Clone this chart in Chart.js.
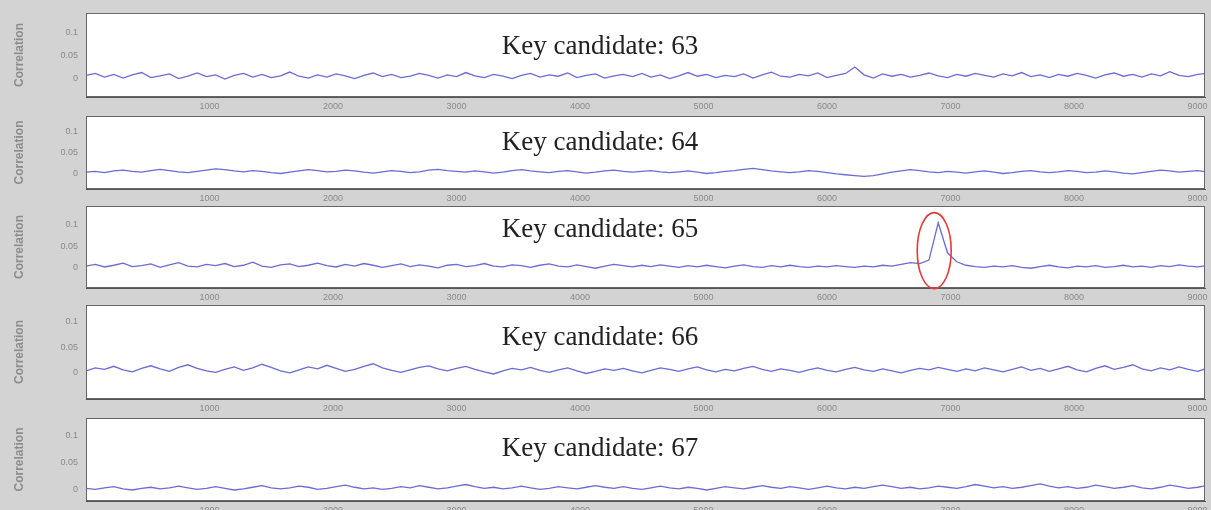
<!DOCTYPE html>
<html>
<head>
<meta charset="utf-8">
<script src="https://cdn.jsdelivr.net/npm/chart.js@4"></script>
<style>
  html, body { margin: 0; padding: 0; }
  body { width: 1211px; height: 510px; background: #d3d3d3; position: relative; overflow: hidden; }
  .panel { position: absolute; left: 0; line-height: 0; }
  canvas { display: block; }
</style>
</head>
<body>
<div id="wrap"></div>
<script>
// Key candidates shown, one per panel
var candidates = [63, 64, 65, 66, 67];

// x sample step and tick values
var sampleStep = 75;
var xTicks = [1000, 2000, 3000, 4000, 5000, 6000, 7000, 8000, 9000];
var yTicks = [0, 0.05, 0.1];

// correlation traces
var trace63 = [
  0.008, 0.012, 0.004, 0.010, 0.002, 0.009, 0.014, 0.003, 0.007, 0.011,
  0.001, 0.006, 0.013, 0.005, 0.009, 0.000, 0.008, 0.012, 0.004, 0.010,
  0.003, 0.007, 0.015, 0.006, 0.002, 0.009, 0.004, 0.011, 0.007, 0.001,
  0.008, 0.013, 0.005, 0.010, 0.003, 0.006, 0.012, 0.008, 0.002, 0.009,
  0.005, 0.014, 0.007, 0.003, 0.010, 0.006, 0.001, 0.008, 0.012, 0.004,
  0.009, 0.006, 0.013, 0.003, 0.008, 0.011, 0.002, 0.007, 0.010, 0.005,
  0.012, 0.004, 0.009, 0.001, 0.007, 0.014, 0.006, 0.010, 0.003, 0.008,
  0.005, 0.011, 0.002, 0.009, 0.015, 0.006, 0.004, 0.010, 0.007, 0.013,
  0.003, 0.008, 0.012, 0.026, 0.009, 0.002, 0.011, 0.006, 0.010, 0.004,
  0.008, 0.013, 0.007, 0.003, 0.010, 0.006, 0.012, 0.008, 0.004, 0.011,
  0.007, 0.014, 0.005, 0.009, 0.003, 0.010, 0.006, 0.012, 0.008, 0.002,
  0.009, 0.013, 0.006, 0.010, 0.004, 0.011, 0.007, 0.016, 0.008, 0.005,
  0.010, 0.012
];
var trace64 = [
  0.002, 0.004, 0.001, 0.005, 0.007, 0.004, 0.002, 0.006, 0.009, 0.006,
  0.003, 0.001, 0.004, 0.007, 0.010, 0.008, 0.005, 0.003, 0.006, 0.004,
  0.001, -0.001, 0.002, 0.005, 0.008, 0.006, 0.003, 0.004, 0.007, 0.005,
  0.002, 0.000, 0.003, 0.006, 0.004, 0.001, 0.003, 0.007, 0.009, 0.006,
  0.004, 0.002, 0.005, 0.003, 0.000, 0.002, 0.006, 0.008, 0.005, 0.003,
  0.001, 0.004, 0.006, 0.003, 0.000, 0.002, 0.005, 0.007, 0.004, 0.002,
  0.004, 0.006, 0.003, 0.001, 0.003, 0.005, 0.002, -0.001, 0.001, 0.004,
  0.006, 0.009, 0.011, 0.008, 0.005, 0.003, 0.001, 0.003, 0.006, 0.004,
  0.001, -0.002, -0.004, -0.006, -0.008, -0.006, -0.002, 0.002, 0.005, 0.008,
  0.006, 0.003, 0.001, 0.004, 0.002, 0.000, 0.003, 0.005, 0.002, -0.001,
  0.001, 0.004, 0.006, 0.003, 0.001, 0.003, 0.006, 0.004, 0.001, 0.002,
  0.005, 0.003, 0.000, -0.002, 0.001, 0.004, 0.007, 0.005, 0.002, 0.004,
  0.006, 0.003
];
var trace65 = [
  0.004, 0.008, 0.002, 0.006, 0.011, 0.003, 0.005, 0.009, 0.001, 0.007,
  0.012, 0.004, 0.002, 0.008, 0.005, 0.010, 0.003, 0.006, 0.013, 0.004,
  0.001, 0.007, 0.009, 0.003, 0.006, 0.011, 0.005, 0.002, 0.008, 0.004,
  0.010, 0.006, 0.001, 0.005, 0.009, 0.003, 0.007, 0.004, 0.000, 0.006,
  0.008, 0.003, 0.005, 0.010, 0.004, 0.002, 0.007, 0.005, 0.001, 0.006,
  0.009, 0.004, 0.002, 0.007, 0.003, -0.001, 0.004, 0.008, 0.005, 0.002,
  0.006, 0.003, 0.007, 0.004, 0.001, 0.005, 0.002, 0.006, 0.003, 0.000,
  0.004, 0.007, 0.003, 0.001, 0.005, 0.002, 0.006, 0.003, 0.001, 0.004,
  0.002, 0.005, 0.003, 0.001, 0.004, 0.002, 0.006, 0.004, 0.008, 0.012,
  0.010, 0.018, 0.105, 0.035, 0.014, 0.006, 0.003, 0.001, 0.004, 0.002,
  0.005, 0.001, -0.001, 0.003, 0.006, 0.002, 0.000, 0.004, 0.002, 0.005,
  0.001, 0.003, 0.006, 0.002, 0.004, 0.001, 0.005, 0.003, 0.007, 0.004,
  0.002, 0.005
];
var trace66 = [
  0.004, 0.010, 0.007, 0.013, 0.006, 0.002, 0.009, 0.014, 0.008, 0.003,
  0.011, 0.016, 0.009, 0.004, 0.001, 0.007, 0.012, 0.005, 0.010, 0.017,
  0.011, 0.004, 0.000, 0.006, 0.012, 0.008, 0.015, 0.009, 0.003, 0.007,
  0.013, 0.018, 0.010, 0.005, 0.001, 0.006, 0.011, 0.014, 0.008, 0.004,
  0.009, 0.013, 0.007, 0.002, -0.002, 0.004, 0.009, 0.006, 0.011, 0.005,
  0.001, 0.006, 0.010, 0.004, -0.001, 0.003, 0.008, 0.005, 0.009, 0.004,
  0.000, 0.005, 0.010, 0.007, 0.003, 0.008, 0.012, 0.006, 0.002, 0.007,
  0.004, 0.009, 0.013, 0.007, 0.003, 0.008, 0.005, 0.001, 0.006, 0.010,
  0.005, 0.002, 0.007, 0.011, 0.006, 0.003, 0.008, 0.004, 0.000, 0.005,
  0.009, 0.006, 0.011, 0.007, 0.003, 0.008, 0.004, 0.010, 0.006, 0.002,
  0.007, 0.012, 0.005, 0.009, 0.003, 0.008, 0.013, 0.006, 0.002, 0.009,
  0.014, 0.007, 0.011, 0.016, 0.008, 0.004, 0.010, 0.006, 0.012, 0.007,
  0.003, 0.009
];
var trace67 = [
  0.003, 0.001, 0.004, 0.006, 0.002, 0.000, 0.003, 0.005, 0.002, 0.004,
  0.007, 0.004, 0.001, 0.003, 0.006, 0.003, 0.000, 0.002, 0.005, 0.008,
  0.004, 0.002, 0.004, 0.007, 0.005, 0.001, 0.003, 0.006, 0.009, 0.005,
  0.002, 0.004, 0.001, 0.003, 0.006, 0.004, 0.008, 0.005, 0.002, 0.004,
  0.007, 0.010, 0.006, 0.003, 0.005, 0.002, 0.004, 0.007, 0.004, 0.001,
  0.003, 0.006, 0.004, 0.002, 0.005, 0.008, 0.005, 0.003, 0.006, 0.003,
  0.001, 0.004, 0.007, 0.004, 0.002, 0.005, 0.003, 0.000, 0.003, 0.006,
  0.004, 0.002, 0.005, 0.008, 0.005, 0.003, 0.006, 0.004, 0.001, 0.004,
  0.007, 0.004, 0.002, 0.005, 0.003, 0.006, 0.009, 0.006, 0.003, 0.005,
  0.002, 0.004, 0.007, 0.005, 0.003, 0.006, 0.010, 0.007, 0.004, 0.006,
  0.003, 0.005, 0.008, 0.011, 0.007, 0.004, 0.006, 0.003, 0.005, 0.009,
  0.006, 0.003, 0.005, 0.008, 0.004, 0.002, 0.005, 0.009, 0.006, 0.003,
  0.005, 0.008
];
var traces = [trace63, trace64, trace65, trace66, trace67];

// index of the circled peak (candidate 65)
var peakPanel = 2;
var peakIndex = 92;

// panel geometry: plot top, plot height, x band height, y range, title offset
var panelTop = [13, 116, 206, 305, 418];
var plotH = [84, 73, 82, 94, 83];
var bandH = [15, 14, 15, 15, 15];
var yMin = [-0.039, -0.038, -0.047, -0.051, -0.020];
var yMax = [0.143, 0.136, 0.144, 0.133, 0.131];
var titleY = [34, 27, 24, 33, 31];

var panelDeco = {
  id: 'panelDeco',
  beforeDraw: function (chart) {
    var a = chart.chartArea, c = chart.ctx;
    c.save();
    c.fillStyle = '#d3d3d3';
    c.fillRect(0, 0, chart.width, chart.height);
    c.fillStyle = '#ffffff';
    c.fillRect(a.left, a.top, a.right - a.left, a.bottom - a.top);
    c.restore();
  },
  afterDraw: function (chart, args, opts) {
    var a = chart.chartArea, c = chart.ctx;
    c.save();
    c.strokeStyle = '#666';
    c.lineWidth = 1;
    c.strokeRect(a.left + 0.5, a.top + 0.5, a.right - a.left - 1, a.bottom - a.top - 1);
    c.fillStyle = '#222';
    c.font = '27px "Liberation Serif", "Times New Roman", serif';
    c.textAlign = 'center';
    c.textBaseline = 'middle';
    c.fillText(opts.title, 600, a.top + opts.titleY);
    if (opts.peak !== null) {
      var xs = chart.scales.x, ys = chart.scales.y;
      var px = xs.getPixelForValue(opts.peak * sampleStep);
      var py = ys.getPixelForValue(0.04);
      c.strokeStyle = '#e23a3a';
      c.lineWidth = 1.6;
      c.beginPath();
      c.ellipse(px - 4, py, 17, 38, 0, 0, Math.PI * 2);
      c.stroke();
    }
    c.restore();
  }
};

var wrap = document.getElementById('wrap');
candidates.forEach(function (cand, p) {
  var div = document.createElement('div');
  div.className = 'panel';
  div.style.top = panelTop[p] + 'px';
  var cv = document.createElement('canvas');
  cv.width = 1211;
  cv.height = plotH[p] + bandH[p];
  div.appendChild(cv);
  wrap.appendChild(div);

  var pts = traces[p].map(function (v, i) { return { x: i * sampleStep, y: v }; });

  new Chart(cv, {
    type: 'line',
    data: {
      datasets: [{
        data: pts,
        borderColor: '#6b6bd6',
        borderWidth: 1.3,
        pointRadius: 0,
        tension: 0
      }]
    },
    options: {
      responsive: false,
      animation: false,
      layout: { padding: { left: 0, right: 6, top: 0, bottom: 0 } },
      plugins: {
        legend: { display: false },
        tooltip: { enabled: false },
        panelDeco: { title: 'Key candidate: ' + cand, titleY: titleY[p], peak: p === peakPanel ? peakIndex : null }
      },
      scales: {
        x: {
          type: 'linear',
          min: 0,
          max: 9060,
          afterBuildTicks: function (s) { s.ticks = xTicks.map(function (v) { return { value: v }; }); },
          afterFit: function (s) { s.height = bandH[p]; s.paddingLeft = 0; s.paddingRight = 0; },
          grid: { display: false, drawTicks: true, tickLength: 3, color: '#555' },
          border: { color: '#555' },
          ticks: { color: '#8a8a8a', font: { size: 9 }, padding: 1, maxRotation: 0, autoSkip: false,
                   callback: function (v) { return String(v); } }
        },
        y: {
          min: yMin[p],
          max: yMax[p],
          afterBuildTicks: function (s) { s.ticks = yTicks.map(function (v) { return { value: v }; }); },
          afterFit: function (s) { s.width = 86; s.paddingTop = 0; s.paddingBottom = 0; },
          grid: { display: false, drawTicks: true, tickLength: 4, color: '#444' },
          border: { color: '#444' },
          ticks: { color: '#8a8a8a', font: { size: 9 }, padding: 4,
                   callback: function (v) { return String(v); } },
          title: { display: true, text: 'Correlation', color: '#8c8c8c', font: { size: 12, weight: 'bold' },
                   padding: { top: 12, bottom: 0 } }
        }
      }
    },
    plugins: [panelDeco]
  });
});
</script>
</body>
</html>
